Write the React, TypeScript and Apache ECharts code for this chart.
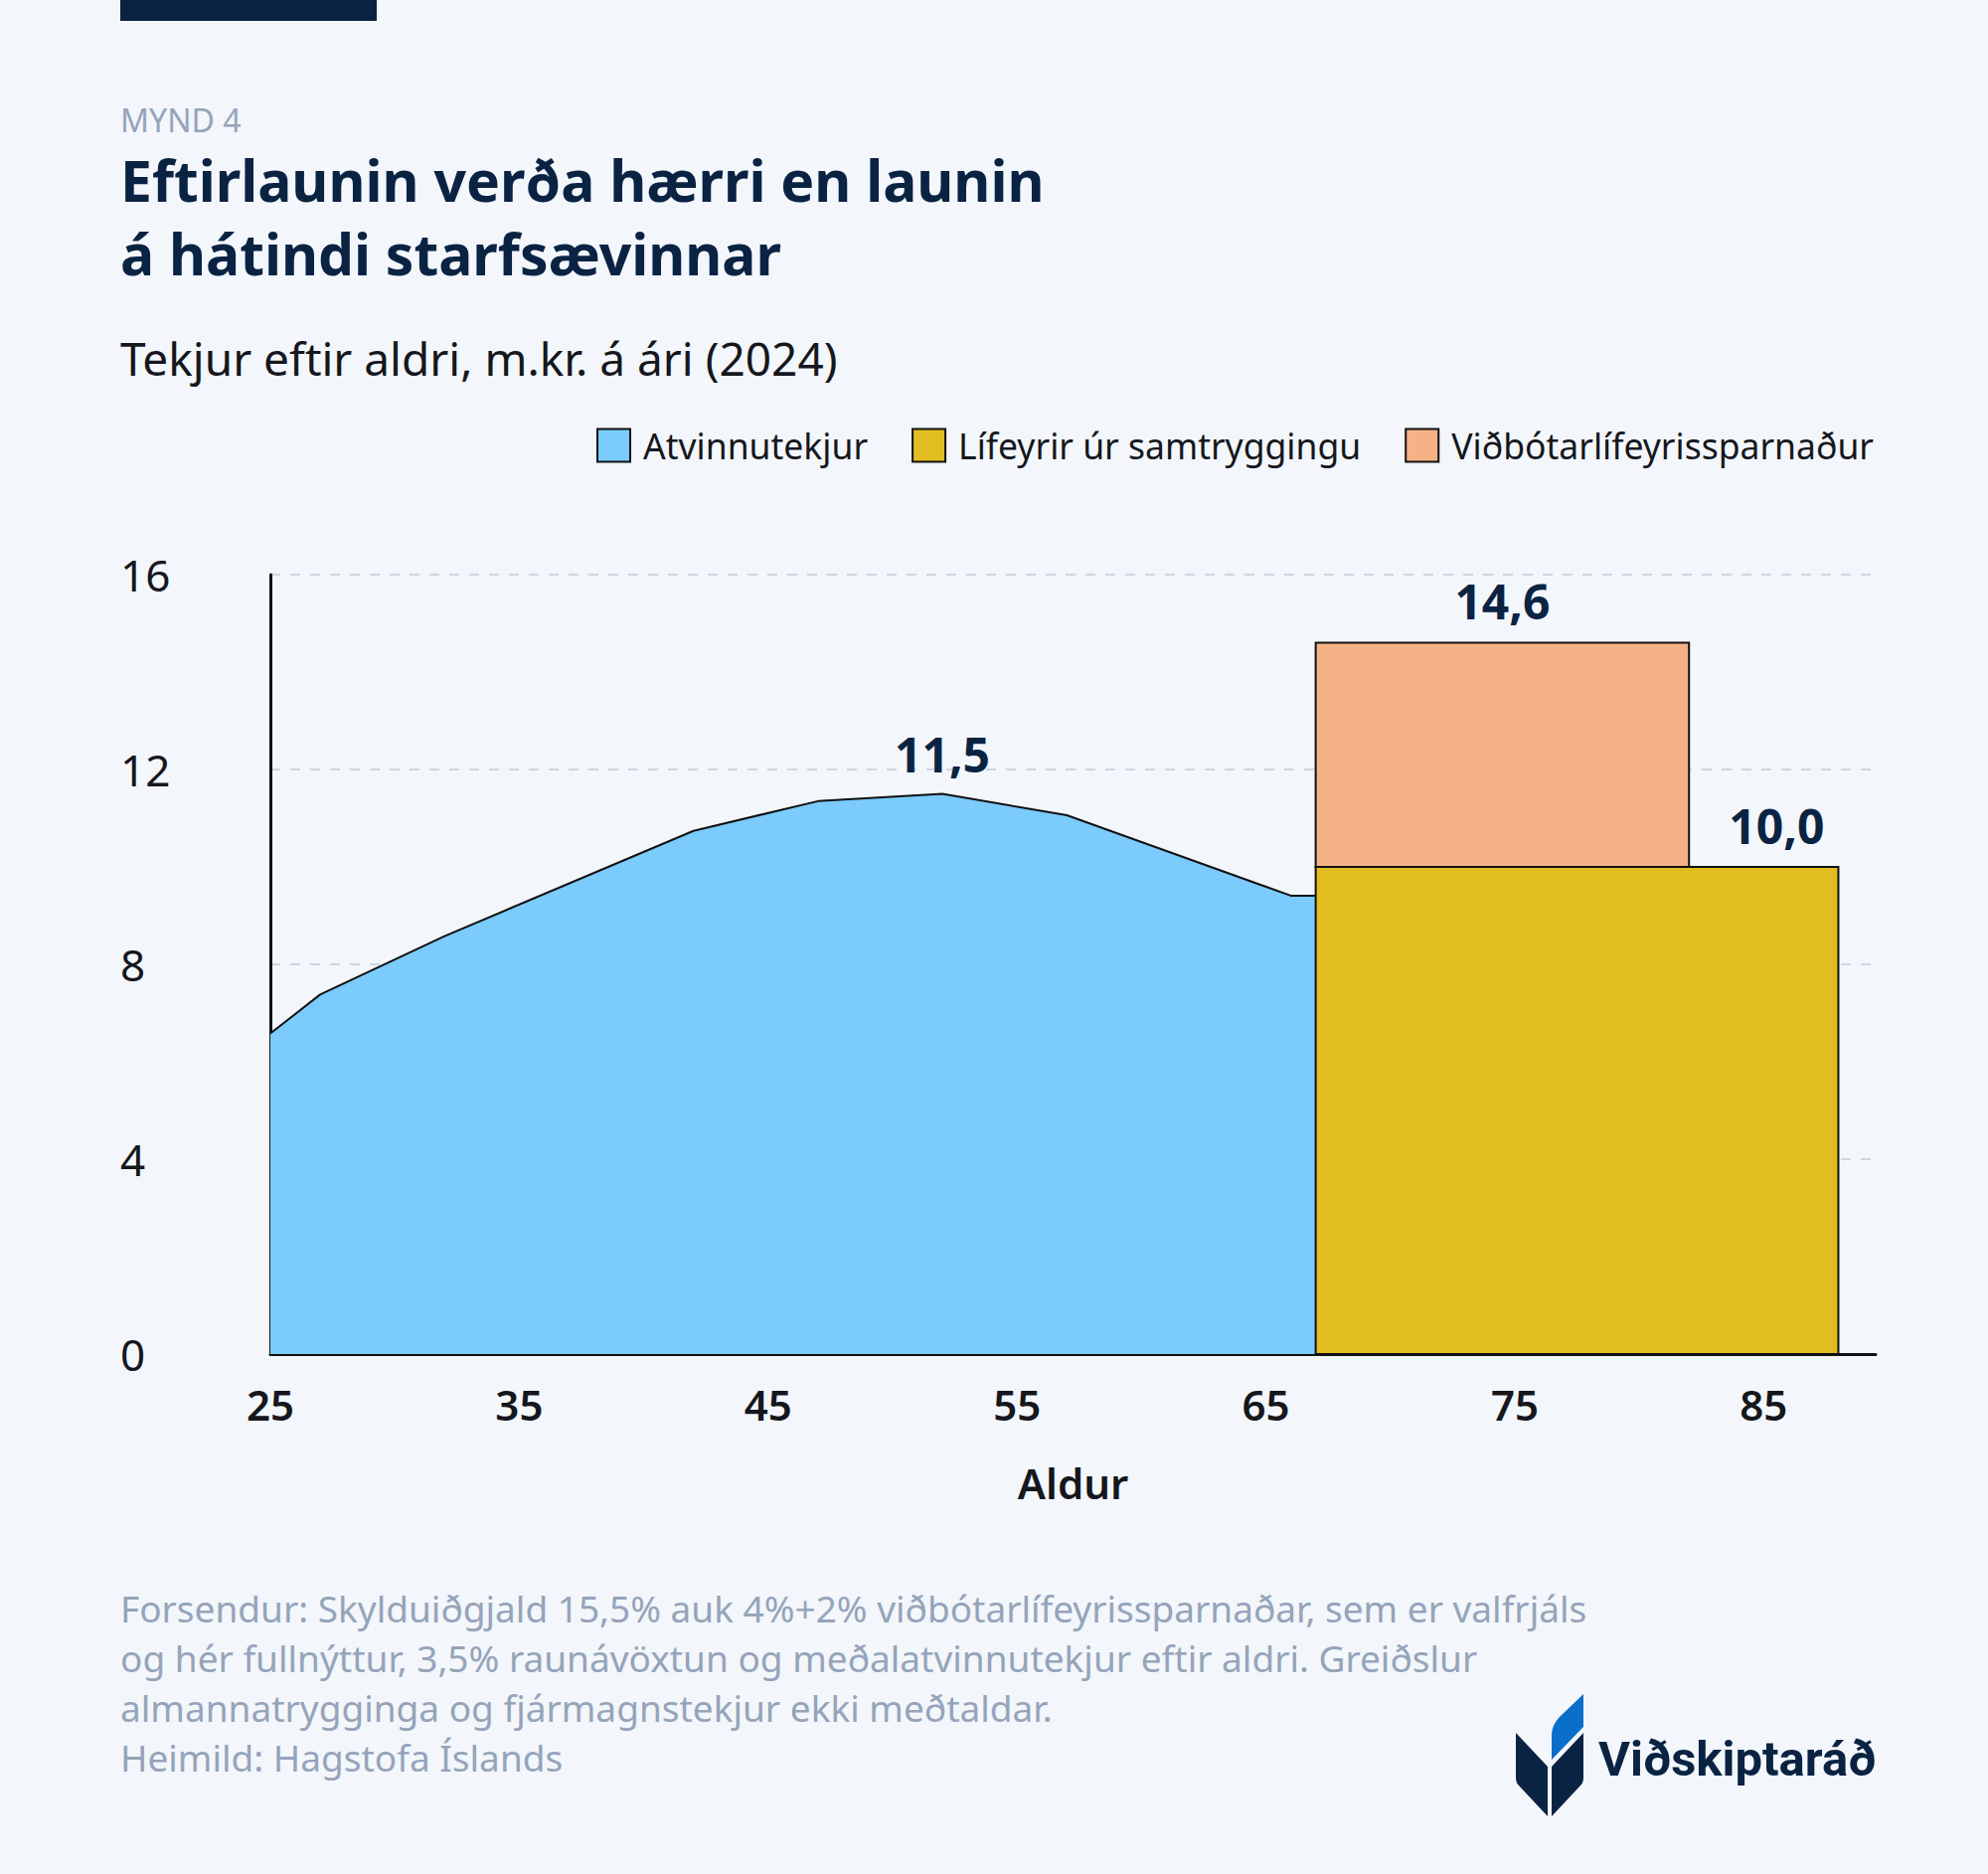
import React, { useEffect, useRef } from 'react';
import * as echarts from 'echarts';

// ---- data ----
const ages = [25, 27, 32, 42, 47, 52, 57, 66, 67];
const earnings = [6.58, 7.38, 8.58, 10.74, 11.35, 11.5, 11.06, 9.41, 9.41];
const pensionSpan = [67, 88];
const pensionValue = 10.0;
const supplementSpan = [67, 82];
const supplementValue = 4.6;
const xTicks = [25, 35, 45, 55, 65, 75, 85];
const yTicks = [0, 4, 8, 12, 16];
const seriesNames = ['Atvinnutekjur', 'Lífeyrir úr samtryggingu', 'Viðbótarlífeyrissparnaður'];
const seriesColors = ['#7bcbfc', '#e1bd21', '#f4b286'];
const footnoteLines = [
  'Forsendur: Skylduiðgjald 15,5% auk 4%+2% viðbótarlífeyrissparnaðar, sem er valfrjáls',
  'og hér fullnýttur, 3,5% raunávöxtun og meðalatvinnutekjur eftir aldri. Greiðslur',
  'almannatrygginga og fjármagnstekjur ekki meðtaldar.',
  'Heimild: Hagstofa Íslands',
];

const FONT = '"Noto Sans", Roboto, sans-serif';
const LOGO_FONT = 'Roboto, "Noto Sans", sans-serif';
const NAVY = '#0b2343';
const INK = '#15171c';
const MUTED = '#95a4ba';
const BG = '#f3f6fb';

const fmt = (v: number) => v.toFixed(1).replace('.', ',');

let registered = false;
function registerLogo() {
  if (registered) return;
  registered = true;
  const dark = 'M0,63 L32,97 L32,147 L3,116 Q0,113 0,108 Z M68,63 L36,97 L36,147 L65,116 Q68,113 68,108 Z';
  const blue = 'M68,24 L68,57 L36,90 L36,66 Q36,55 44,47 Z';
  echarts.graphic.registerShape('vrLogoDark', echarts.graphic.extendPath(dark, {}));
  echarts.graphic.registerShape('vrLogoBlue', echarts.graphic.extendPath(blue, {}));
}

export default function App() {
  const ref = useRef<HTMLDivElement>(null);

  useEffect(() => {
    document.body.style.margin = '0';
    document.body.style.overflow = 'hidden';
    registerLogo();
    const chart = echarts.init(ref.current!, null, { renderer: 'svg' });

    const peakIdx = earnings.indexOf(Math.max(...earnings));
    const totalTop = pensionValue + supplementValue;

    const barRender = (labelMode: 'center' | 'exposed') => (params: any, api: any) => {
      const x0 = api.value(0);
      const x1 = api.value(1);
      const y0 = api.value(2);
      const y1 = api.value(3);
      const pTop = api.coord([x0, y1]);
      const pBot = api.coord([x1, y0]);
      const labelAge = labelMode === 'center' ? (x0 + x1) / 2 : (supplementSpan[1] + x1) / 2;
      const lp = api.coord([labelAge, y1]);
      const color = labelMode === 'center' ? seriesColors[2] : seriesColors[1];
      return {
        type: 'group',
        children: [
          {
            type: 'rect',
            shape: { x: pTop[0], y: pTop[1], width: pBot[0] - pTop[0], height: pBot[1] - pTop[1] },
            style: { fill: color, stroke: '#111', lineWidth: 2 },
          },
          {
            type: 'text',
            x: lp[0] + (labelMode === 'center' ? 0 : 13),
            y: pTop[1] - 42,
            style: {
              text: fmt(y1),
              fill: NAVY,
              fontSize: 48,
              fontWeight: 'bold',
              fontFamily: FONT,
              align: 'center',
              verticalAlign: 'middle',
            },
          },
        ],
      };
    };

    const option: any = {
      animation: false,
      backgroundColor: BG,
      textStyle: { fontFamily: FONT },
      grid: { left: 272, right: 113, top: 578, bottom: 523, containLabel: false },
      legend: {
        right: 115,
        top: 430,
        padding: 0,
        itemWidth: 33,
        itemHeight: 33,
        itemGap: 44,
        icon: 'rect',
        selectedMode: false,
        textStyle: { fontSize: 35.5, color: INK, fontFamily: FONT, padding: [0, 0, 0, 8] },
        data: seriesNames.map((n, i) => ({
          name: n,
          icon: 'rect',
          itemStyle: { color: seriesColors[i], borderColor: '#111', borderWidth: 2 },
        })),
      },
      xAxis: {
        type: 'value',
        min: 25,
        max: 89.5,
        interval: 5,
        name: 'Aldur',
        nameLocation: 'middle',
        nameGap: 108,
        nameTextStyle: { fontSize: 42, fontWeight: 600, color: INK, fontFamily: FONT },
        axisLine: { show: true, onZero: false, lineStyle: { color: '#111', width: 3 } },
        axisTick: { show: false },
        splitLine: { show: false },
        axisLabel: {
          margin: 29,
          fontSize: 42,
          fontWeight: 600,
          color: INK,
          fontFamily: FONT,
          showMaxLabel: false,
          formatter: (v: number) => (xTicks.includes(v) ? String(v) : ''),
        },
      },
      yAxis: {
        type: 'value',
        min: yTicks[0],
        max: yTicks[yTicks.length - 1],
        interval: 4,
        axisLine: { show: true, lineStyle: { color: '#111', width: 3 } },
        axisTick: { show: false },
        splitLine: { show: true, lineStyle: { color: '#cdd6e2', width: 2, type: [10, 10] } },
        axisLabel: {
          margin: 151,
          align: 'left',
          fontSize: 44,
          color: INK,
          fontFamily: FONT,
        },
      },
      series: [
        {
          type: 'line',
          name: seriesNames[0],
          data: ages.map((a, i) => [a, earnings[i]]),
          symbol: 'none',
          itemStyle: { color: seriesColors[0] },
          lineStyle: { color: '#111', width: 2 },
          areaStyle: { color: seriesColors[0], opacity: 1 },
          z: 2,
          markPoint: {
            symbol: 'circle',
            symbolSize: 1,
            itemStyle: { color: 'rgba(0,0,0,0)' },
            label: {
              show: true,
              position: 'top',
              distance: 16,
              fontSize: 48,
              fontWeight: 'bold',
              color: NAVY,
              fontFamily: FONT,
              formatter: (p: any) => fmt(p.value),
            },
            data: [{ coord: [ages[peakIdx], earnings[peakIdx]], value: earnings[peakIdx] }],
          },
        },
        {
          type: 'custom',
          name: seriesNames[1],
          itemStyle: { color: seriesColors[1] },
          encode: { x: [0, 1], y: [2, 3] },
          data: [[pensionSpan[0], pensionSpan[1], 0, pensionValue]],
          renderItem: barRender('exposed'),
          z: 3,
        },
        {
          type: 'custom',
          name: seriesNames[2],
          itemStyle: { color: seriesColors[2] },
          encode: { x: [0, 1], y: [2, 3] },
          data: [[supplementSpan[0], supplementSpan[1], pensionValue, totalTop]],
          renderItem: barRender('center'),
          z: 3,
        },
      ],
      graphic: [
        { type: 'rect', left: 121, top: 0, shape: { width: 258, height: 21 }, style: { fill: '#0a2342' } },
        {
          type: 'text', x: 121, y: 120,
          style: { text: 'MYND 4', fill: MUTED, fontSize: 32, fontFamily: FONT, align: 'left', verticalAlign: 'middle' },
        },
        {
          type: 'text', x: 121, y: 181,
          style: { text: 'Eftirlaunin verða hærri en launin', fill: NAVY, fontSize: 57, fontWeight: 'bold', fontFamily: FONT, align: 'left', verticalAlign: 'middle' },
        },
        {
          type: 'text', x: 121, y: 255,
          style: { text: 'á hátindi starfsævinnar', fill: NAVY, fontSize: 57, fontWeight: 'bold', fontFamily: FONT, align: 'left', verticalAlign: 'middle' },
        },
        {
          type: 'text', x: 121, y: 360,
          style: { text: 'Tekjur eftir aldri, m.kr. á ári (2024)', fill: INK, fontSize: 46, fontFamily: FONT, align: 'left', verticalAlign: 'middle' },
        },
        ...footnoteLines.map((t, i) => ({
          type: 'text', x: 121, y: 1617 + i * 50,
          style: { text: t, fill: MUTED, fontSize: 37, fontFamily: FONT, align: 'left', verticalAlign: 'middle' },
        })),
        { type: 'vrLogoDark', x: 1525, y: 1680, style: { fill: '#0a2342' } },
        { type: 'vrLogoBlue', x: 1525, y: 1680, style: { fill: '#0a6fc8' } },
        {
          type: 'text', x: 1608, y: 1769,
          style: { text: 'Viðskiptaráð', fill: '#0a2342', fontSize: 49, fontWeight: 'bold', fontFamily: LOGO_FONT, align: 'left', verticalAlign: 'middle' },
        },
      ],
    };

    chart.setOption(option);
    return () => chart.dispose();
  }, []);

  return <div ref={ref} style={{ width: 2000, height: 1885 }} />;
}
